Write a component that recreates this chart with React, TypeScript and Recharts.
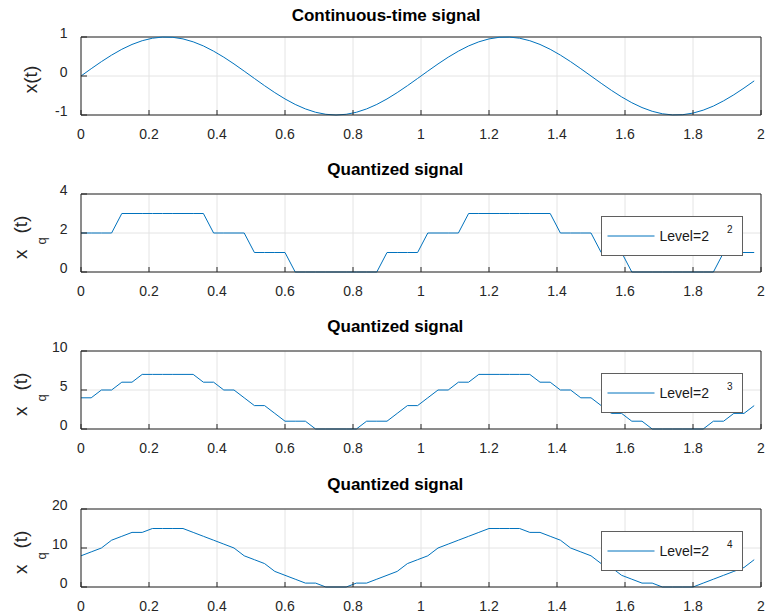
import React from "react";
import { LineChart, Line, XAxis, YAxis, CartesianGrid, Legend, ReferenceLine } from "recharts";

// sample times (s)
const tValues = [
  0, 0.03, 0.06, 0.09, 0.12, 0.15, 0.18, 0.21, 0.24, 0.27,
  0.3, 0.33, 0.36, 0.39, 0.42, 0.45, 0.48, 0.51, 0.54, 0.57,
  0.6, 0.63, 0.66, 0.69, 0.72, 0.75, 0.78, 0.81, 0.84, 0.87,
  0.9, 0.93, 0.96, 0.99, 1.02, 1.05, 1.08, 1.11, 1.14, 1.17,
  1.2, 1.23, 1.26, 1.29, 1.32, 1.35, 1.38, 1.41, 1.44, 1.47,
  1.5, 1.53, 1.56, 1.59, 1.62, 1.65, 1.68, 1.71, 1.74, 1.77,
  1.8, 1.83, 1.86, 1.89, 1.92, 1.95, 1.98,
];

// continuous-time signal x(t)
const xSignal = [
  0, 0.187, 0.368, 0.536, 0.685, 0.809, 0.905, 0.969, 0.998, 0.992,
  0.951, 0.876, 0.771, 0.637, 0.482, 0.309, 0.125, -0.063, -0.249, -0.426,
  -0.588, -0.729, -0.844, -0.93, -0.982, -1, -0.982, -0.93, -0.844, -0.729,
  -0.588, -0.426, -0.249, -0.063, 0.125, 0.309, 0.482, 0.637, 0.771, 0.876,
  0.951, 0.992, 0.998, 0.969, 0.905, 0.809, 0.685, 0.536, 0.368, 0.187,
  0, -0.187, -0.368, -0.536, -0.685, -0.809, -0.905, -0.969, -0.998, -0.992,
  -0.951, -0.876, -0.771, -0.637, -0.482, -0.309, -0.125,
];

// quantized, 2^2 levels
const xq4 = [
  2, 2, 2, 2, 3, 3, 3, 3, 3, 3,
  3, 3, 3, 2, 2, 2, 2, 1, 1, 1,
  1, 0, 0, 0, 0, 0, 0, 0, 0, 0,
  1, 1, 1, 1, 2, 2, 2, 2, 3, 3,
  3, 3, 3, 3, 3, 3, 3, 2, 2, 2,
  2, 1, 1, 1, 0, 0, 0, 0, 0, 0,
  0, 0, 0, 1, 1, 1, 1,
];

// quantized, 2^3 levels
const xq8 = [
  4, 4, 5, 5, 6, 6, 7, 7, 7, 7,
  7, 7, 6, 6, 5, 5, 4, 3, 3, 2,
  1, 1, 1, 0, 0, 0, 0, 0, 1, 1,
  1, 2, 3, 3, 4, 5, 5, 6, 6, 7,
  7, 7, 7, 7, 7, 6, 6, 5, 5, 4,
  4, 3, 2, 2, 1, 1, 0, 0, 0, 0,
  0, 0, 1, 1, 2, 2, 3,
];

// quantized, 2^4 levels
const xq16 = [
  8, 9, 10, 12, 13, 14, 14, 15, 15, 15,
  15, 14, 13, 12, 11, 10, 8, 7, 6, 4,
  3, 2, 1, 1, 0, 0, 0, 1, 1, 2,
  3, 4, 6, 7, 8, 10, 11, 12, 13, 14,
  15, 15, 15, 15, 14, 14, 13, 12, 10, 9,
  8, 6, 5, 3, 2, 1, 1, 0, 0, 0,
  0, 1, 2, 3, 4, 5, 7,
];

const xTicks = [0, 0.2, 0.4, 0.6, 0.8, 1, 1.2, 1.4, 1.6, 1.8, 2];
const yTicksX = [-1, 0, 1];
const yTicksQ4 = [0, 2, 4];
const yTicksQ8 = [0, 5, 10];
const yTicksQ16 = [0, 10, 20];

const titleMain = "Continuous-time signal";
const titleQuant = "Quantized signal";
const levelBase = "Level=2";

const rows = tValues.map((t, i) => ({
  t,
  x: xSignal[i],
  q4: xq4[i],
  q8: xq8[i],
  q16: xq16[i],
}));

const BLUE = "#0072BD";
const AXIS = "#262626";
const FONT = '"Liberation Sans", Arial, Helvetica, sans-serif';

const plainYLabel = (
  <text
    transform="translate(36.5,79.5) rotate(-90)"
    textAnchor="middle"
    fontSize={19}
    fontFamily={FONT}
    fill={AXIS}
  >
    x(t)
  </text>
);

const subYLabel = (
  <g transform="translate(27,80.5) rotate(-90)" fontFamily={FONT} fill={AXIS}>
    <text x={-21.5} y={0} fontSize={19}>x</text>
    <text x={-7} y={18.5} fontSize={13}>q</text>
    <text x={4} y={0} fontSize={19}>(t)</text>
  </g>
);

// title + y label, drawn through the y axis label slot
const makeLabels = (text: string, x: number, y: number, yLabel: React.ReactNode) => () => (
  <g>
    <text x={x} y={y} fontSize={17} fontWeight="bold" fontFamily={FONT} fill="#000">
      {text}
    </text>
    {yLabel}
  </g>
);

const makeLegend = (exp: string) => () => (
  <div
    style={{
      width: 142,
      height: 40,
      boxSizing: "border-box",
      border: "1px solid #5f5f5f",
      background: "#fff",
    }}
  >
    <svg width={140} height={38} style={{ display: "block" }}>
      <line x1={5.5} x2={52.5} y1={19} y2={19} stroke={BLUE} strokeWidth={1} />
      <text x={57.5} y={24.3} fontSize={14} fontFamily={FONT} fill="#1a1a1a">
        {levelBase}
      </text>
      <text x={125} y={16} fontSize={10} fontFamily={FONT} fill="#1a1a1a">
        {exp}
      </text>
    </svg>
  </div>
);

type PanelProps = {
  top: number;
  dataKey: string;
  yTicks: number[];
  labels: () => React.ReactNode;
  exp?: string;
};

const Panel = ({ top, dataKey, yTicks, labels, exp }: PanelProps) => {
  const domain: [number, number] = [yTicks[0], yTicks[yTicks.length - 1]];
  return (
    <div style={{ position: "absolute", left: 0, top, width: 765, height: 158 }}>
      <LineChart
        width={765}
        height={158}
        data={rows}
        margin={{ top: 37, right: 4, bottom: 0, left: 0 }}
      >
        <CartesianGrid stroke="#e4e4e4" fill="none" />
        <XAxis
          dataKey="t"
          type="number"
          domain={[0, 2]}
          allowDataOverflow
          ticks={xTicks}
          interval={0}
          height={43}
          tickSize={-5}
          tickMargin={19}
          stroke={AXIS}
          tick={{ fill: AXIS, fontSize: 14, fontFamily: FONT }}
        />
        <YAxis
          type="number"
          domain={domain}
          ticks={yTicks}
          interval={0}
          width={81}
          tickSize={-6}
          tickMargin={19.5}
          stroke={AXIS}
          tick={{ fill: AXIS, fontSize: 14, fontFamily: FONT, dy: -4 }}
          label={labels}
        />
        {/* top and right border of the box */}
        <ReferenceLine y={domain[1]} stroke={AXIS} ifOverflow="visible" />
        <ReferenceLine x={2} stroke={AXIS} ifOverflow="visible" />
        <Line
          type="linear"
          dataKey={dataKey}
          stroke={BLUE}
          strokeWidth={1}
          dot={false}
          activeDot={false}
          isAnimationActive={false}
        />
        {exp && (
          <Legend
            layout="horizontal"
            verticalAlign="middle"
            align="center"
            content={makeLegend(exp)}
            wrapperStyle={{ left: 601, top: 59, width: 142, height: 40 }}
          />
        )}
      </LineChart>
    </div>
  );
};

export default function App() {
  return (
    <div
      style={{
        position: "absolute",
        left: 0,
        top: 0,
        width: 765,
        height: 616,
        overflow: "hidden",
        background: "#fff",
        fontFamily: FONT,
      }}
    >
      <Panel top={0} dataKey="x" yTicks={yTicksX} labels={makeLabels(titleMain, 291.7, 21, plainYLabel)} />
      <Panel top={157} dataKey="q4" yTicks={yTicksQ4} labels={makeLabels(titleQuant, 327.3, 18, subYLabel)} exp="2" />
      <Panel top={314} dataKey="q8" yTicks={yTicksQ8} labels={makeLabels(titleQuant, 327.3, 18, subYLabel)} exp="3" />
      <Panel top={472} dataKey="q16" yTicks={yTicksQ16} labels={makeLabels(titleQuant, 327.3, 18, subYLabel)} exp="4" />
    </div>
  );
}
